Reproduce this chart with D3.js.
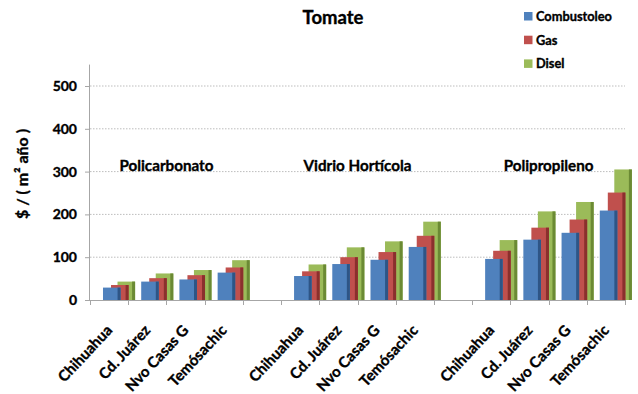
<!DOCTYPE html>
<html>
<head>
<meta charset="utf-8">
<script src="https://cdn.jsdelivr.net/npm/d3@7/dist/d3.min.js"></script>
<style>
  html, body { margin: 0; padding: 0; background: #fff; }
  svg { display: block; }
  text { font-family: Lato, "Liberation Sans", Arial, sans-serif; font-weight: bold; fill: #000;
         stroke: #000; stroke-width: 0.35px; }
</style>
</head>
<body>
<svg id="chart" width="638" height="394"></svg>
<script>
// Costo anual por material de cubierta y ciudad ($ / m² año)
const title = "Tomate";
const groups = ["Policarbonato", "Vidrio Hortícola", "Polipropileno"];
const cities = ["Chihuahua", "Cd. Juárez", "Nvo Casas G", "Temósachic"];
const seriesNames = ["Combustoleo", "Gas", "Disel"];
const combustoleo = [29, 43, 48, 64, 56, 84, 94, 124, 96, 141, 157, 209];
const gas = [35, 51, 58, 76, 67, 100, 112, 150, 115, 169, 188, 251];
const disel = [43, 62, 70, 93, 83, 123, 137, 183, 140, 207, 229, 305];
const yTicks = [0, 100, 200, 300, 400, 500];
const yLabel = "$ / ( m² año )";

const colors = ["#4F81BD", "#C0504D", "#9BBB59"];
const sideColors = ["#2E5586", "#8A302D", "#6B8A34"];

const svg = d3.select("#chart");

// Category slots: four cities per material, with an empty slot between materials
const slots = [];
groups.forEach((g, gi) => {
  cities.forEach((c, ci) => slots.push({ key: gi + "|" + c, city: c, group: gi, idx: gi * 4 + ci }));
  if (gi < groups.length - 1) slots.push({ key: gi + "|gap", city: null, group: gi, idx: -1 });
});

const x = d3.scaleBand().domain(slots.map(s => s.key)).range([90, 625]).padding(0);
const y = d3.scaleLinear().domain([0, 550]).range([300, 64.6]);
const bw = x.bandwidth();

// Gridlines
svg.append("g")
  .selectAll("line")
  .data(yTicks.filter(t => t > 0))
  .join("line")
  .attr("x1", 90).attr("x2", 625)
  .attr("y1", d => y(d)).attr("y2", d => y(d))
  .attr("stroke", "#BDBDBD").attr("stroke-width", 1)
  .attr("stroke-dasharray", "1.5,1.5");

// Y axis
const yAxis = d3.axisLeft(y).tickValues(yTicks).tickSize(5).tickPadding(8);
const gy = svg.append("g").attr("transform", "translate(90,0)").call(yAxis);
gy.select(".domain").attr("stroke", "#A6A6A6").attr("d", `M-0.5,${y(550)}V${y(0)}`);
gy.selectAll(".tick line").attr("stroke", "#A6A6A6");
gy.selectAll(".tick text").style("font-size", "14px").attr("fill", "#000");

// X axis: tick marks on slot boundaries
svg.append("line")
  .attr("x1", 90).attr("x2", 625).attr("y1", 300.5).attr("y2", 300.5)
  .attr("stroke", "#A6A6A6");
const boundaries = slots.map(s => x(s.key)).concat([x(slots[slots.length - 1].key) + bw]);
svg.append("g")
  .selectAll("line")
  .data(boundaries)
  .join("line")
  .attr("x1", d => Math.round(d) + 0.5).attr("x2", d => Math.round(d) + 0.5)
  .attr("y1", 300).attr("y2", 305)
  .attr("stroke", "#A6A6A6");

// Bars (back to front: Disel, Gas, Combustoleo)
const seriesVals = [combustoleo, gas, disel];
const offsets = [0.34, 0.55, 0.72];
const barW = bw * 0.46;
const side = 3;
const barLayer = svg.append("g");
[2, 1, 0].forEach(si => {
  const data = slots.filter(s => s.idx >= 0).map(s => ({ slot: s, v: seriesVals[si][s.idx] }));
  const g = barLayer.append("g");
  g.selectAll("rect.face")
    .data(data)
    .join("rect")
    .attr("class", "face")
    .attr("x", d => x(d.slot.key) + bw * offsets[si])
    .attr("y", d => y(d.v))
    .attr("width", barW)
    .attr("height", d => y(0) - y(d.v))
    .attr("fill", colors[si]);
  g.selectAll("rect.side")
    .data(data)
    .join("rect")
    .attr("class", "side")
    .attr("x", d => x(d.slot.key) + bw * offsets[si] + barW - side)
    .attr("y", d => y(d.v))
    .attr("width", side)
    .attr("height", d => y(0) - y(d.v))
    .attr("fill", sideColors[si]);
});

// Category labels, rotated
svg.append("g")
  .selectAll("text")
  .data(slots.filter(s => s.city))
  .join("text")
  .attr("transform", s => `translate(${x(s.key) + bw / 2 + 4},${331}) rotate(-47)`)
  .attr("text-anchor", "end")
  .style("font-size", "15px")
  .text(s => s.city);

// Material labels above each group
svg.append("g")
  .selectAll("text")
  .data(groups)
  .join("text")
  .attr("x", (g, gi) => {
    const first = x(gi + "|" + cities[0]);
    const last = x(gi + "|" + cities[cities.length - 1]) + bw;
    return (first + last) / 2;
  })
  .attr("y", 171)
  .attr("text-anchor", "middle")
  .style("font-size", "15.2px")
  .text(g => g);

// Title
svg.append("text")
  .attr("x", 333).attr("y", 24)
  .attr("text-anchor", "middle")
  .style("font-size", "18.5px")
  .text(title);

// Y axis title
svg.append("text")
  .attr("transform", "translate(28,174) rotate(-90)")
  .attr("text-anchor", "middle")
  .style("font-size", "16px")
  .text(yLabel);

// Legend
const legend = svg.append("g").attr("transform", "translate(524,12)");
const items = legend.selectAll("g").data(seriesNames).join("g")
  .attr("transform", (d, i) => `translate(0,${i * 23.7})`);
items.append("rect").attr("width", 8.5).attr("height", 8.5).attr("fill", (d, i) => colors[i]);
items.append("text").attr("x", 12).attr("y", 9).style("font-size", "12.8px").text(d => d);
</script>
</body>
</html>
